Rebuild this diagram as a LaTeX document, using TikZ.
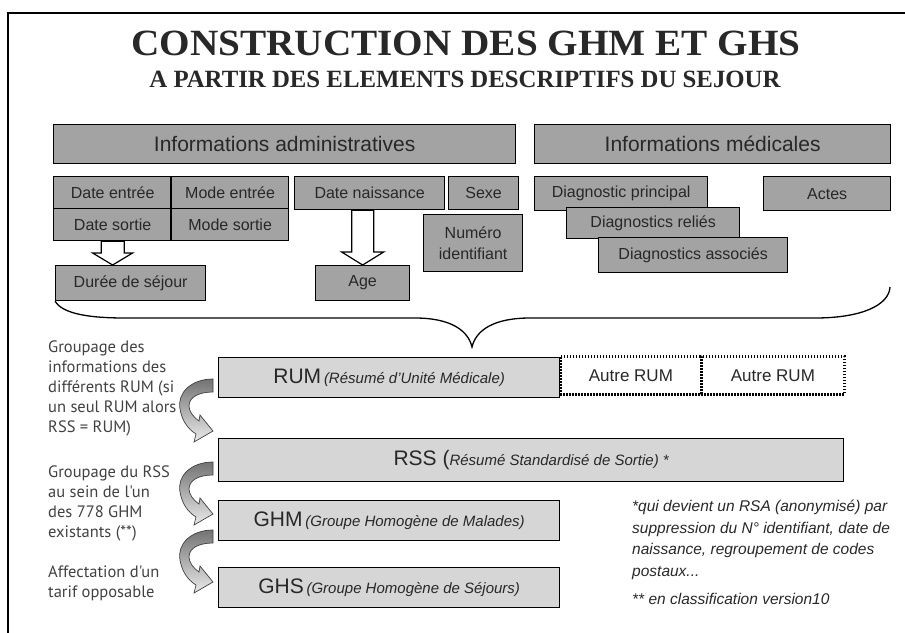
\documentclass[tikz,border=0pt]{standalone}
\usepackage{fontspec}
\setmainfont{Liberation Sans}
\newfontfamily\titlefont{Liberation Serif}
\newfontfamily\leftfont{PT Sans}
\usetikzlibrary{calc}
\definecolor{boxdark}{RGB}{163,163,163}
\definecolor{boxlight}{RGB}{214,214,214}
\definecolor{txt}{RGB}{40,40,40}
\definecolor{lefttxt}{RGB}{65,65,65}
\tikzset{
  basebox/.style={draw=black, line width=1.3pt, inner sep=0pt, anchor=north west, text=txt, align=center},
  topbox/.style={basebox, fill=boxdark},
  lowbox/.style={basebox, fill=boxlight},
  otherbox/.style={basebox, fill=white, draw=black, line width=2.8pt, dash pattern=on 1.8pt off 1.2pt},
  bigf/.style={font=\fontsize{21}{25}\selectfont},
  midf/.style={font=\fontsize{16}{19}\selectfont},
  lefttext/.style={anchor=north west, inner sep=0pt, align=left, text=lefttxt, font=\leftfont\fontsize{16.5}{20}\selectfont},
  notetext/.style={anchor=north west, inner sep=0pt, align=left, text=txt, font=\itshape\fontsize{15.5}{21.5}\selectfont},
  hollow/.style={draw=black, line width=1.2pt, fill=white},
  brace/.style={draw=black, line width=1.3pt},
  carrow/.pic={
    \path[draw=black!75, line width=0.7pt, top color=black!55, bottom color=black!8]
      (0,0) .. controls (-22,0) and (-36,14) .. (-33,30)
      .. controls (-31,42) and (-25,50) .. (-17,55)
      -- (-19,63) -- (0,52) -- (-13,36) -- (-14,42)
      .. controls (-20,38) and (-24,32) .. (-24,27)
      .. controls (-24,18) and (-14,13) .. (0,13) -- cycle;
  }
}
\begin{document}
\begin{tikzpicture}[x=1pt,y=-1pt]
\useasboundingbox (0,0) rectangle (905,632);
\begin{scope}
\clip (0,0) rectangle (905,632);
\draw[line width=1.2pt] (8,660) -- (8,13) -- (915,13);
\end{scope}

% titles
\node[anchor=base, inner sep=0pt, text=txt, xscale=1.06, transform shape, font=\titlefont\bfseries\fontsize{37}{42}\selectfont] (title) at (466,55) {CONSTRUCTION DES GHM ET GHS};
\node[anchor=base, inner sep=0pt, text=txt, font=\titlefont\bfseries\fontsize{24.8}{28}\selectfont] (subtitle) at (465,87) {A PARTIR DES ELEMENTS DESCRIPTIFS DU SEJOUR};

% header boxes
\node[topbox, bigf, minimum width=462, minimum height=39] (admin) at (53,124) {Informations administratives};
\node[topbox, bigf, minimum width=356, minimum height=39] (medic) at (534,124) {Informations médicales};

% administrative items
\node[topbox, midf, minimum width=118, minimum height=32] (dentree) at (53,176) {Date entrée};
\node[topbox, midf, minimum width=117, minimum height=32] (mentree) at (171,176) {Mode entrée};
\node[topbox, midf, minimum width=118, minimum height=32] (dsortie) at (53,208) {Date sortie};
\node[topbox, midf, minimum width=117, minimum height=32] (msortie) at (171,208) {Mode sortie};
\draw[line width=2.4pt] (mentree.north west) -- (msortie.south west);
\node[topbox, midf, minimum width=150, minimum height=33] (dnaiss) at (294,176) {Date naissance};
\node[topbox, midf, minimum width=70, minimum height=33] (sexe) at (448,176) {Sexe};
\node[topbox, midf, minimum width=99, minimum height=57, font=\fontsize{16}{21}\selectfont] (numero) at (423,214) {Numéro\\identifiant};
\node[topbox, midf, minimum width=150, minimum height=35] (duree) at (55,265) {Durée de séjour};
\node[topbox, midf, minimum width=94, minimum height=35] (age) at (315,265) {Age};

% medical items
\node[topbox, midf, minimum width=173, minimum height=34] (dprinc) at (534,176) {Diagnostic principal};
\node[topbox, midf, minimum width=173, minimum height=31] (dreli) at (566,207) {Diagnostics reliés};
\node[topbox, midf, minimum width=189, minimum height=35] (dasso) at (598,237) {Diagnostics associés};
\node[topbox, midf, minimum width=127, minimum height=34] (actes) at (763,176) {Actes};

% hollow arrows
\draw[hollow] let \p1=(dsortie.south), \p2=(duree.north) in
  (\x1-11.5pt,\y1) -- (\x1+11.5pt,\y1) -- (\x1+11.5pt,\y2+12pt) -- (\x1+20pt,\y2+12pt)
  -- (\x1,\y2) -- (\x1-20pt,\y2+12pt) -- (\x1-11.5pt,\y2+12pt) -- cycle;
\draw[hollow] let \p1=(dnaiss.south), \p2=(age.north) in
  (\x2-11pt,\y1) -- (\x2+11pt,\y1) -- (\x2+11pt,\y2+13pt) -- (\x2+21pt,\y2+13pt)
  -- (\x2,\y2) -- (\x2-21pt,\y2+13pt) -- (\x2-11pt,\y2+13pt) -- cycle;

% brace
\coordinate (bracetip) at (472,347);
\coordinate (braceR) at (890,287);
\draw[brace] (duree.south west) .. controls (62,312) and (82,318) .. (125,318)
  -- (415,318) .. controls (450,318) and (468,330) .. (bracetip)
  .. controls (476,330) and (494,318) .. (530,318)
  -- (815,318) .. controls (862,318) and (889,305) .. (braceR);

% lower boxes
\node[lowbox, minimum width=341, minimum height=40] (rum) at (218,357)
  {{\fontsize{21}{25}\selectfont RUM} {\fontsize{15}{18}\selectfont\itshape (Résumé d'Unité Médicale)}};
\node[otherbox, font=\fontsize{17}{20}\selectfont, minimum width=141, minimum height=38] (autre1) at (559,355) {Autre RUM};
\node[otherbox, font=\fontsize{17}{20}\selectfont, minimum width=143, minimum height=38] (autre2) at (700,355) {Autre RUM};
\node[lowbox, minimum width=625, minimum height=43] (rss) at (218,438)
  {{\fontsize{21}{25}\selectfont RSS (}{\fontsize{15}{18}\selectfont\itshape Résumé Standardisé de Sortie) *}};
\node[lowbox, minimum width=341, minimum height=40] (ghm) at (218,500)
  {{\fontsize{21}{25}\selectfont GHM} {\fontsize{15}{18}\selectfont\itshape (Groupe Homogène de Malades)}};
\node[lowbox, minimum width=341, minimum height=40] (ghs) at (218,567)
  {{\fontsize{21}{25}\selectfont GHS} {\fontsize{15}{18}\selectfont\itshape (Groupe Homogène de Séjours)}};

% curved arrows
\pic at (213,379) {carrow};
\pic at (213,462) {carrow};
\pic at (213,530) {carrow};

% left explanations
\node[lefttext] (t1) at (48,341) {Groupage des\\informations des\\différents RUM (si\\un seul RUM alors\\RSS = RUM)};
\node[lefttext] (t2) at (48,466) {Groupage du RSS\\au sein de l'un\\des 778 GHM\\existants (**)};
\node[lefttext] (t3) at (48,566) {Affectation d'un\\tarif opposable};

% notes
\node[notetext] (n1) at (632,500) {*qui devient un RSA (anonymisé) par\\suppression du N° identifiant, date de\\naissance, regroupement de codes\\postaux...};
\node[notetext] (n2) at (632,593) {** en classification version10};
\end{tikzpicture}
\end{document}
